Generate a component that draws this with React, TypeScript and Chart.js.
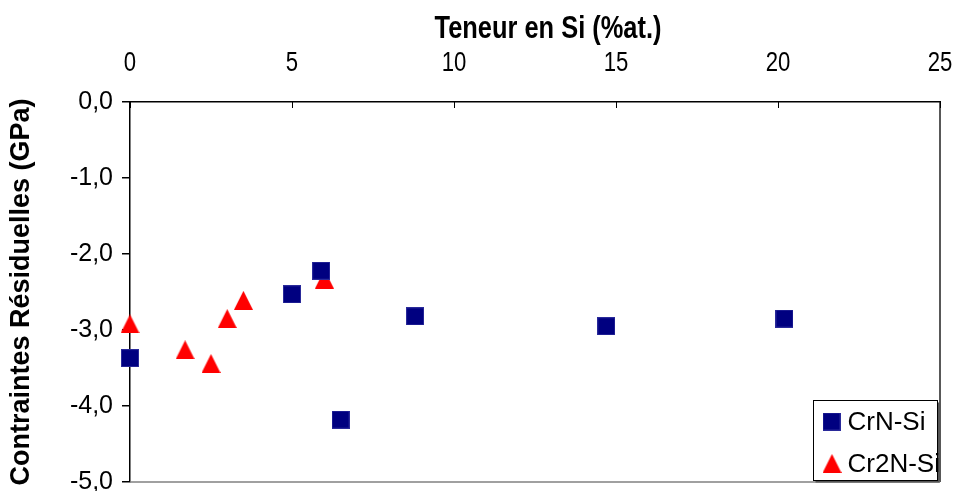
import React, { useEffect, useRef } from "react";
import { Chart, registerables } from "chart.js";

Chart.register(...registerables);

const crnSiX = [0, 5, 5.9, 6.5, 8.8, 14.7, 20.2];
const crnSiY = [-3.37, -2.53, -2.22, -4.18, -2.82, -2.95, -2.85];
const cr2nSiX = [0, 1.7, 2.5, 3.0, 3.5, 6.0];
const cr2nSiY = [-2.92, -3.26, -3.44, -2.85, -2.61, -2.33];

const seriesNames = ["CrN-Si", "Cr2N-Si"];
const xTitle = "Teneur en Si (%at.)";
const yTitle = "Contraintes Résiduelles (GPa)";
const xMin = 0, xMax = 25, xStep = 5;
const yMin = -5, yMax = 0, yStep = 1;

const NAVY = "#000080";
const RED = "#FF0000";
const SANS = "'Liberation Sans', Arial, sans-serif";
const CONDENSE = 0.82;

function makeTriangle(size: number, color: string) {
  const c = document.createElement("canvas");
  c.width = size;
  c.height = size;
  const ctx = c.getContext("2d")!;
  ctx.fillStyle = color;
  ctx.beginPath();
  ctx.moveTo(size / 2, 0);
  ctx.lineTo(size, size);
  ctx.lineTo(0, size);
  ctx.closePath();
  ctx.fill();
  return c;
}

function makeSquare(size: number, color: string, edge: string) {
  const c = document.createElement("canvas");
  c.width = size;
  c.height = size;
  const ctx = c.getContext("2d")!;
  ctx.fillStyle = edge;
  ctx.fillRect(0, 0, size, size);
  ctx.fillStyle = color;
  ctx.fillRect(1, 1, size - 2, size - 2);
  return c;
}

export default function App() {
  const ref = useRef<HTMLCanvasElement | null>(null);

  useEffect(() => {
    if (!ref.current) return;
    const tri = makeTriangle(19, RED);
    const sq = makeSquare(18, NAVY, "#2a2a9a");

    const framePlugin = {
      id: "frame",
      afterDraw(chart: any) {
        const { ctx, chartArea: a, scales } = chart;
        ctx.save();
        // right and bottom plot border
        ctx.lineWidth = 1.5;
        ctx.strokeStyle = "#202020";
        ctx.beginPath();
        ctx.moveTo(a.right, a.top);
        ctx.lineTo(a.right, a.bottom);
        ctx.stroke();
        ctx.strokeStyle = "#808080";
        ctx.beginPath();
        ctx.moveTo(a.left, a.bottom);
        ctx.lineTo(a.right, a.bottom);
        ctx.stroke();
        // inward ticks + condensed labels on the top x axis
        ctx.strokeStyle = "#000";
        ctx.lineWidth = 1;
        const xs = scales.x;
        ctx.fillStyle = "#000";
        ctx.textAlign = "center";
        ctx.textBaseline = "middle";
        ctx.font = `27px ${SANS}`;
        xs.ticks.forEach((t: any) => {
          const px = xs.getPixelForValue(t.value);
          const rx = Math.round(px) + 0.5;
          ctx.beginPath();
          ctx.moveTo(rx, a.top);
          ctx.lineTo(rx, a.top + 6);
          ctx.stroke();
          ctx.save();
          ctx.translate(px, a.top - 38);
          ctx.scale(CONDENSE, 1);
          ctx.fillText(String(t.label), 0, 0);
          ctx.restore();
        });
        // x title (condensed bold)
        ctx.save();
        ctx.font = `bold 31px ${SANS}`;
        ctx.translate((a.left + a.right) / 2 + 13, a.top - 73);
        ctx.scale(CONDENSE, 1);
        ctx.fillText(xTitle, 0, 0);
        ctx.restore();
        // legend
        const bw = 124, bh = 80;
        const bx = Math.round(a.right - 3 - bw) + 0.5;
        const by = Math.round(a.bottom - 2 - bh) + 0.5;
        ctx.fillStyle = "#555";
        ctx.fillRect(bx + 2, by + 2, bw, bh);
        ctx.fillStyle = "#fff";
        ctx.fillRect(bx, by, bw, bh);
        ctx.strokeStyle = "#000";
        ctx.lineWidth = 1;
        ctx.strokeRect(bx, by, bw, bh);
        const icons = [sq, tri];
        ctx.font = `26px ${SANS}`;
        ctx.textAlign = "left";
        ctx.textBaseline = "middle";
        ctx.fillStyle = "#000";
        chart.data.datasets.forEach((ds: any, i: number) => {
          const cy = by + 21 + i * 42;
          const ic = icons[i];
          ctx.drawImage(ic, bx + 9, cy - ic.height / 2);
          ctx.fillText(ds.label, bx + 34, cy + 1);
        });
        ctx.restore();
      },
    };

    const chart = new Chart(ref.current, {
      type: "scatter",
      data: {
        datasets: [
          {
            label: seriesNames[0],
            data: crnSiX.map((x, i) => ({ x, y: crnSiY[i] })),
            pointStyle: sq as any,
            backgroundColor: NAVY,
            borderColor: NAVY,
            clip: false as any,
          },
          {
            label: seriesNames[1],
            data: cr2nSiX.map((x, i) => ({ x, y: cr2nSiY[i] })),
            pointStyle: tri as any,
            backgroundColor: RED,
            borderColor: RED,
            clip: false as any,
          },
        ],
      },
      plugins: [framePlugin],
      options: {
        responsive: false,
        animation: false,
        events: [],
        layout: { padding: { left: 0, top: 0, right: 15, bottom: -5 } },
        plugins: {
          legend: { display: false },
          tooltip: { enabled: false },
        },
        scales: {
          x: {
            type: "linear",
            position: "top",
            min: xMin,
            max: xMax,
            ticks: { stepSize: xStep, display: false },
            grid: { display: false, drawOnChartArea: false },
            border: { display: true, color: "#000", width: 1.5 },
            title: { display: false, text: xTitle },
            afterFit(scale: any) {
              scale.height = 102;
            },
          },
          y: {
            type: "linear",
            min: yMin,
            max: yMax,
            ticks: {
              stepSize: yStep,
              color: "#000",
              font: { family: SANS, size: 25 },
              padding: 9,
              callback: (v: any) => Number(v).toFixed(1).replace(".", ",").replace("-0,0", "0,0"),
            },
            grid: {
              display: true,
              drawOnChartArea: false,
              drawTicks: true,
              tickLength: 8,
              color: "#000",
              lineWidth: 1.5,
            },
            border: { display: true, color: "#000", width: 1.5 },
            title: {
              display: true,
              text: yTitle,
              color: "#000",
              font: { family: SANS, size: 27, weight: "bold" },
              padding: { top: 5, bottom: 0 },
            },
            afterFit(scale: any) {
              scale.width = 130;
            },
          },
        },
      },
    });
    return () => chart.destroy();
  }, []);

  return (
    <div style={{ position: "absolute", left: 0, top: 0, width: 955, height: 491, overflow: "hidden", background: "#fff" }}>
      <canvas ref={ref} width={955} height={506} style={{ display: "block" }} />
    </div>
  );
}
